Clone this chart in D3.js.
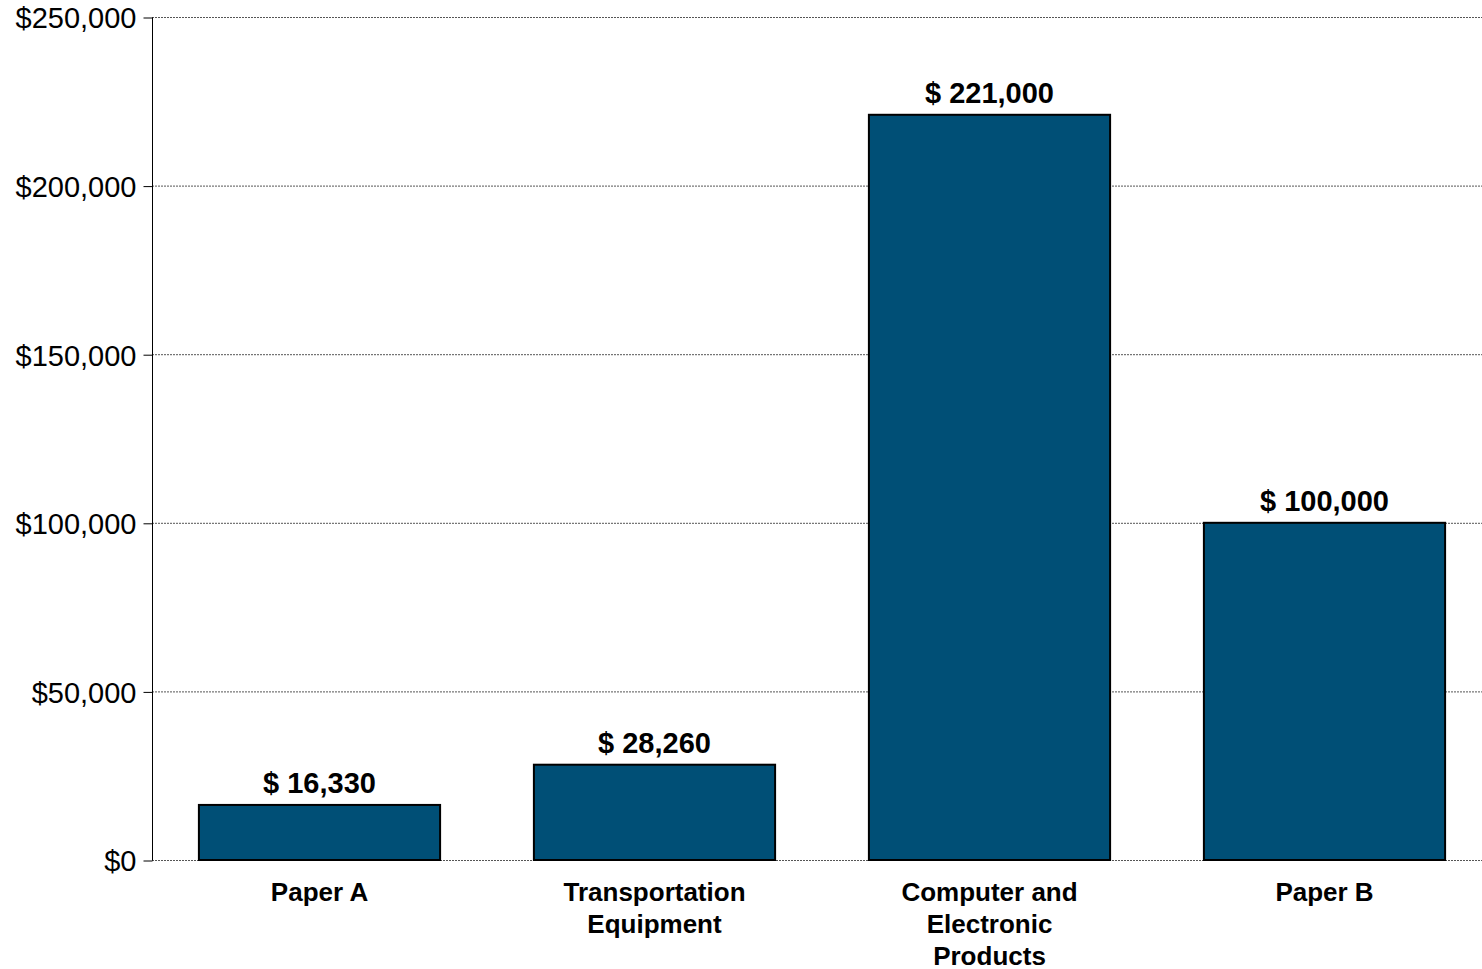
<!DOCTYPE html>
<html><head><meta charset="utf-8">
<script src="https://cdn.jsdelivr.net/npm/d3@7"></script>
<style>body{margin:0;background:#fff}svg{display:block}</style>
</head><body>
<svg id="c" width="1482" height="969"></svg>
<script>
const categories = [["Paper A"],["Transportation","Equipment"],["Computer and","Electronic","Products"],["Paper B"]];
const values = [16330, 28260, 221000, 100000];
const valueLabels = ["$ 16,330","$ 28,260","$ 221,000","$ 100,000"];
const yTicks = [0, 50000, 100000, 150000, 200000, 250000];

const svg = d3.select("#c");
const L = 152, R = 1482, T = 17, B = 860;
const x = d3.scaleBand().domain(d3.range(values.length)).range([L, 1492]).paddingInner(0.28).paddingOuter(0.14);
const y = d3.scaleLinear().domain([0, 250000]).range([B, T]);
const font = "Liberation Sans, Arial, sans-serif";

// gridlines
svg.append("g").selectAll("line").data(yTicks).join("line")
  .attr("x1", L).attr("x2", R).attr("y1", d => y(d)+0.5).attr("y2", d => y(d)+0.5)
  .attr("stroke", "#555").attr("stroke-width", 1).attr("stroke-dasharray", "2,1");

// y axis
const yAxis = d3.axisLeft(y).tickValues(yTicks).tickSize(9).tickPadding(7)
  .tickFormat(d => "$" + d3.format(",")(d));
const ga = svg.append("g").attr("transform", `translate(${L+0.5},0.5)`).call(yAxis);
ga.select(".domain").attr("stroke", "#000").attr("stroke-width", 1).attr("d", `M0,${B}V${T}`);
ga.selectAll(".tick line").attr("stroke", "#000");
ga.selectAll(".tick text").attr("font-family", font).attr("font-size", 29).attr("fill", "#000").attr("dy", "0.36em");

// bars
svg.append("g").selectAll("rect").data(values).join("rect")
  .attr("x", (d,i) => x(i)).attr("width", x.bandwidth())
  .attr("y", d => y(d)).attr("height", d => B - y(d))
  .attr("fill", "#004f76").attr("stroke", "#000").attr("stroke-width", 2);

// value labels
svg.append("g").selectAll("text").data(values).join("text")
  .attr("x", (d,i) => x(i) + x.bandwidth()/2).attr("y", d => y(d) - 12)
  .attr("text-anchor", "middle").attr("font-family", font).attr("font-weight", "bold")
  .attr("font-size", 29).attr("fill", "#000").text((d,i) => valueLabels[i]);

// category labels
const cg = svg.append("g").selectAll("text").data(categories).join("text")
  .attr("text-anchor", "middle").attr("font-family", font).attr("font-weight", "bold")
  .attr("font-size", 26).attr("fill", "#000")
  .attr("transform", (d,i) => `translate(${x(i) + x.bandwidth()/2},901)`);
cg.selectAll("tspan").data(d => d).join("tspan")
  .attr("x", 0).attr("dy", (d,j) => j === 0 ? 0 : 32).text(d => d);
</script>
</body></html>
